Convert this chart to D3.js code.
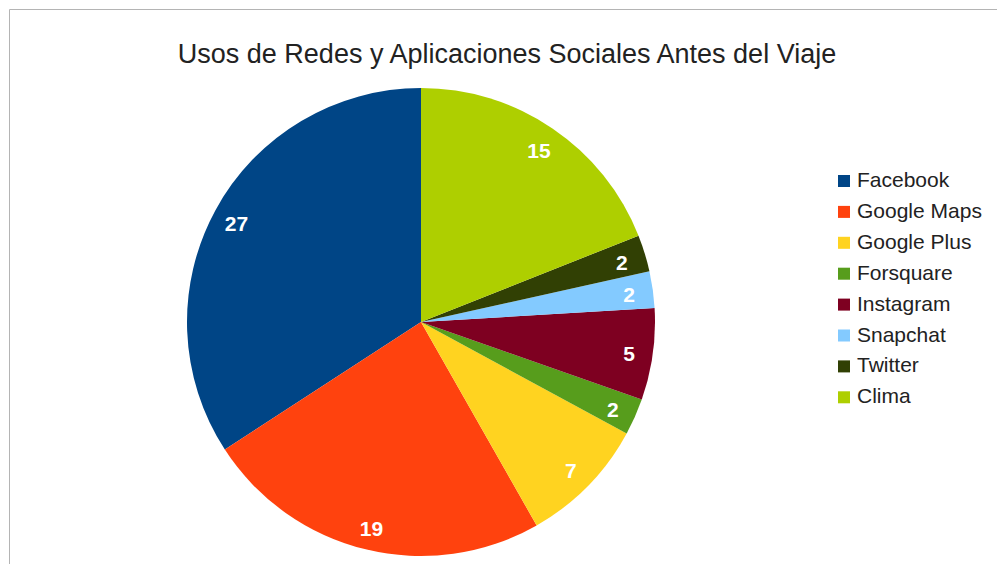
<!DOCTYPE html>
<html>
<head>
<meta charset="utf-8">
<script src="https://cdn.jsdelivr.net/npm/d3@7"></script>
<style>
  body { margin: 0; background: #ffffff; }
  svg { display: block; font-family: "Liberation Sans", Arial, sans-serif; }
</style>
</head>
<body>
<div id="chart"></div>
<script>
// data
var categories = ["Facebook", "Google Maps", "Google Plus", "Forsquare", "Instagram", "Snapchat", "Twitter", "Clima"];
var values = [27, 19, 7, 2, 5, 2, 2, 15];
var colors = ["#004586", "#ff420e", "#ffd320", "#579d1c", "#7e0021", "#83caff", "#314004", "#aecf00"];
var title = "Usos de Redes y Aplicaciones Sociales Antes del Viaje";

// layout
var width = 997;
var height = 564;
var cx = 421, cy = 322;
var radius = 234;
var labelRadius = 210;

var svg = d3.select("#chart")
            .append("svg")
            .attr("width", width)
            .attr("height", height);

// frame lines (top + left)
svg.append("path")
   .attr("d", "M9.5," + height + "V9.5H" + width)
   .attr("fill", "none")
   .attr("stroke", "#b4b4b4")
   .attr("stroke-width", 1);

// title
svg.append("text")
   .attr("x", 507)
   .attr("y", 63)
   .attr("text-anchor", "middle")
   .attr("font-size", 27)
   .attr("fill", "#222222")
   .text(title);

// pie goes counter-clockwise from 12 o'clock
var pie = d3.pie()
            .sort(null)
            .startAngle(0)
            .endAngle(-2 * Math.PI);

var arc = d3.arc().innerRadius(0).outerRadius(radius);
var labelArc = d3.arc().innerRadius(labelRadius).outerRadius(labelRadius);

var arcs = pie(values);

var g = svg.append("g").attr("transform", "translate(" + cx + "," + cy + ")");

g.selectAll("path")
 .data(arcs)
 .enter()
 .append("path")
 .attr("d", arc)
 .attr("fill", function(d, i) { return colors[i]; });

g.selectAll(".slice-label")
 .data(arcs)
 .enter()
 .append("text")
 .attr("class", "slice-label")
 .attr("transform", function(d) { return "translate(" + labelArc.centroid(d) + ")"; })
 .attr("text-anchor", "middle")
 .attr("dy", "0.45em")
 .attr("font-size", 21)
 .attr("font-weight", "bold")
 .attr("fill", "#ffffff")
 .text(function(d) { return d.data; });

// legend
var legend = svg.append("g").attr("transform", "translate(838,187)");
var rowH = 30.9;

var rows = legend.selectAll("g")
                 .data(categories)
                 .enter()
                 .append("g")
                 .attr("transform", function(d, i) { return "translate(0," + (i * rowH) + ")"; });

rows.append("rect")
    .attr("x", 0)
    .attr("y", -12)
    .attr("width", 12)
    .attr("height", 12)
    .attr("fill", function(d, i) { return colors[i]; });

rows.append("text")
    .attr("x", 19)
    .attr("y", 0)
    .attr("font-size", 21)
    .attr("fill", "#222222")
    .text(function(d) { return d; });
</script>
</body>
</html>
